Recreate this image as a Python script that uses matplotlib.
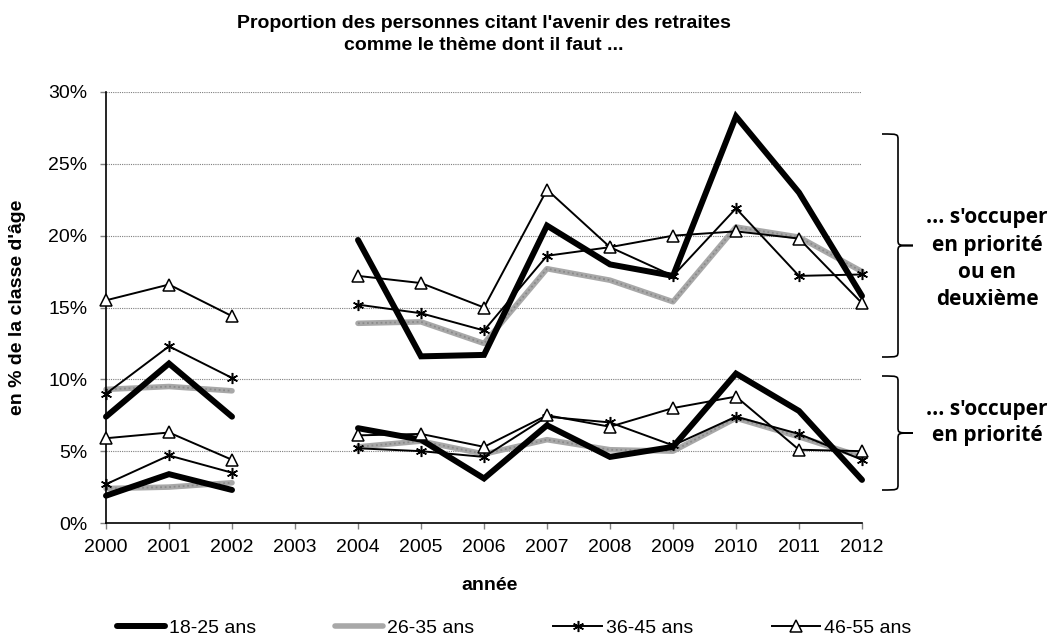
import numpy as np
import matplotlib
matplotlib.use("Agg")
import matplotlib.pyplot as plt
from matplotlib.path import Path
from matplotlib.patches import PathPatch
from matplotlib.ticker import PercentFormatter

years = [2000, 2001, 2002, 2003, 2004, 2005, 2006, 2007, 2008, 2009, 2010, 2011, 2012]
nan = np.nan

# "... s'occuper en priorité ou en deuxième" (upper group), in %
high_18_25 = [7.4, 11.1, 7.4, nan, 19.7, 11.6, 11.7, 20.7, 18.0, 17.2, 28.3, 23.0, 15.8]
high_26_35 = [9.3, 9.5, 9.2, nan, 13.9, 14.0, 12.5, 17.7, 16.9, 15.4, 20.6, 19.9, 17.5]
high_36_45 = [9.0, 12.3, 10.1, nan, 15.2, 14.6, 13.4, 18.6, 19.2, 17.2, 21.9, 17.2, 17.3]
high_46_55 = [15.5, 16.6, 14.4, nan, 17.2, 16.7, 15.0, 23.2, 19.2, 20.0, 20.3, 19.8, 15.3]

# "... s'occuper en priorité" (lower group), in %
low_18_25 = [1.9, 3.4, 2.3, nan, 6.6, 5.8, 3.1, 6.8, 4.6, 5.3, 10.4, 7.8, 3.0]
low_26_35 = [2.4, 2.5, 2.8, nan, 5.3, 5.7, 4.8, 5.8, 5.1, 5.0, 7.3, 6.0, 4.6]
low_36_45 = [2.7, 4.7, 3.5, nan, 5.2, 5.0, 4.6, 7.4, 7.0, 5.4, 7.4, 6.2, 4.4]
low_46_55 = [5.9, 6.3, 4.4, nan, 6.1, 6.2, 5.3, 7.5, 6.7, 8.0, 8.8, 5.1, 5.0]

labels = ["18-25 ans", "26-35 ans", "36-45 ans", "46-55 ans"]

plt.rcParams['font.family'] = ['Liberation Sans', 'DejaVu Sans']

fig = plt.figure(figsize=(10.52, 6.37), dpi=100)
W, H = 1052, 637
ax = fig.add_axes([106 / W, 1 - 523 / H, (862 - 106) / W, (523 - 92) / H])

star = (6, 2, 0)
styles = [
    dict(color='black', lw=4.3, solid_capstyle='round', solid_joinstyle='miter', zorder=3),
    dict(color='#a8a8a8', lw=4.0, solid_capstyle='round', zorder=2),
    dict(color='black', lw=1.4, marker=star, markersize=8, markeredgewidth=1.1, zorder=4),
    dict(color='black', lw=1.4, marker='^', markersize=9, markerfacecolor='white',
         markeredgecolor='black', markeredgewidth=1.1, zorder=5),
]
highs = [high_18_25, high_26_35, high_36_45, high_46_55]
lows = [low_18_25, low_26_35, low_36_45, low_46_55]

handles = []
for i, (lab, hi, lo, st) in enumerate(zip(labels, highs, lows, styles)):
    for k, ser in enumerate((hi, lo)):
        h, = ax.plot(years, np.array(ser) / 100, clip_on=False, **st)
        if i == 1:
            # texture of the grey band
            ax.plot(years, np.array(ser) / 100, clip_on=False, color='#8a8a8a', lw=1.3,
                    linestyle=(0, (1, 1.5)), zorder=2.1)
        if k == 0:
            handles.append(h)

ax.set_xlim(2000, 2012)
ax.set_ylim(0, 0.30)
ax.set_xticks(years)
ax.set_xticklabels([str(y) for y in years])
ax.set_yticks(np.arange(0, 0.301, 0.05))
ax.yaxis.set_major_formatter(PercentFormatter(1.0, decimals=0))
ax.tick_params(axis='x', labelsize=14, direction='out', length=4, width=1, pad=7.5,
               color='#808080')
ax.tick_params(axis='y', labelsize=14, direction='out', length=4.5, width=1, pad=9,
               color='#808080')
ax.yaxis.grid(True, color='#7f7f7f', linestyle=(0, (1, 1)), lw=0.8)
ax.set_axisbelow(True)
for s in ['top', 'right']:
    ax.spines[s].set_visible(False)
for s in ['left', 'bottom']:
    ax.spines[s].set_linewidth(1.2)

fig.text(484 / W, 1 - 24 / H, "Proportion des personnes citant l'avenir des retraites",
         ha='center', va='center', fontsize=14, fontweight='bold')
fig.text(484 / W, 1 - 46 / H, "comme le thème dont il faut ...",
         ha='center', va='center', fontsize=14, fontweight='bold')
fig.text(490 / W, 1 - 586 / H, "année", ha='center', va='center', fontsize=14,
         fontweight='bold')
fig.text(18 / W, 1 - 307 / H, "en % de la classe d'âge", ha='center', va='center',
         rotation=90, fontsize=14, fontweight='bold')

leg = fig.legend(handles=handles, labels=labels, loc='center', ncol=4,
                 bbox_to_anchor=(514 / W, 1 - 628 / H), frameon=False, fontsize=14,
                 handlelength=2.5, handletextpad=0.2, columnspacing=4.05,
                 borderpad=0, borderaxespad=0)


def brace(x_end, x_stem, x_tip, y_top, y_bot):
    # pixel coords (y from top) -> figure coords
    def P(x, y):
        return (x / W, 1 - y / H)
    ym = (y_top + y_bot) / 2
    r = 6
    verts = [
        P(x_end, y_top),
        P(x_stem, y_top), P(x_stem, y_top), P(x_stem, y_top + r),
        P(x_stem, ym - r),
        P(x_stem, ym), P(x_stem, ym), P(x_tip, ym),
        P(x_stem, ym), P(x_stem, ym), P(x_stem, ym + r),
        P(x_stem, y_bot - r),
        P(x_stem, y_bot), P(x_stem, y_bot), P(x_end, y_bot),
    ]
    codes = [Path.MOVETO,
             Path.CURVE4, Path.CURVE4, Path.CURVE4,
             Path.LINETO,
             Path.CURVE4, Path.CURVE4, Path.CURVE4,
             Path.CURVE4, Path.CURVE4, Path.CURVE4,
             Path.LINETO,
             Path.CURVE4, Path.CURVE4, Path.CURVE4]
    fig.patches.append(PathPatch(Path(verts, codes), transform=fig.transFigure,
                                 fill=False, edgecolor='black', lw=1.2))


brace(882, 898, 913, 134, 357)
brace(882, 898, 913, 376, 490)

upper_lines = ["... s'occuper", "en priorité", "ou en", "deuxième"]
upper_y = [217, 245, 272, 299]
lower_lines = ["... s'occuper", "en priorité"]
lower_y = [410, 436]
for txt, yy in list(zip(upper_lines, upper_y)) + list(zip(lower_lines, lower_y)):
    fig.text(987 / W, 1 - yy / H, txt, ha='center', va='center', fontsize=15,
             fontweight='bold', family=['Open Sans', 'DejaVu Sans'])

fig.savefig("out.png", dpi=100)
